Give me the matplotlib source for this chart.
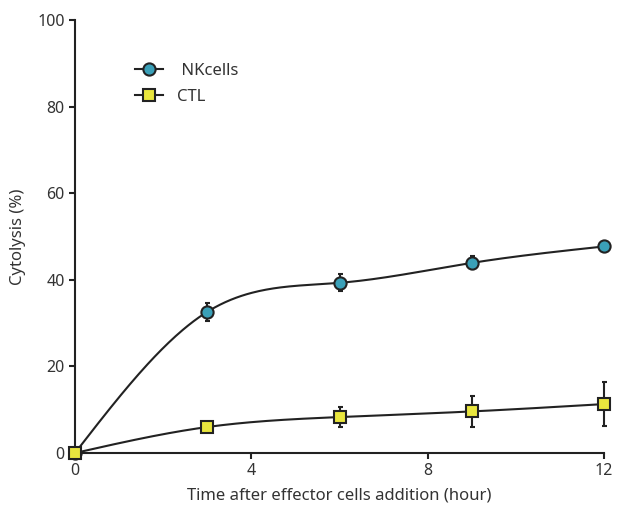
import numpy as np
import matplotlib
matplotlib.use("Agg")
import matplotlib.pyplot as plt
from matplotlib.lines import Line2D

time_h = [0, 3, 6, 9, 12]
nk_values = [0, 32.6, 39.3, 43.9, 47.7]
nk_err = [0, 2.0, 2.0, 1.5, 1.0]
ctl_values = [0, 6.0, 8.3, 9.6, 11.3]
ctl_err = [0, 0.4, 2.4, 3.6, 5.1]

x_ticks = [0, 4, 8, 12]
y_ticks = [0, 20, 40, 60, 80, 100]

plt.rcParams['font.family'] = ['Noto Sans', 'DejaVu Sans']

def natural_spline(x, y, n=300):
    x = np.asarray(x, float); y = np.asarray(y, float)
    k = len(x); h = np.diff(x)
    A = np.zeros((k, k)); b = np.zeros(k)
    A[0, 0] = 1; A[-1, -1] = 1
    for i in range(1, k - 1):
        A[i, i - 1] = h[i - 1]; A[i, i] = 2 * (h[i - 1] + h[i]); A[i, i + 1] = h[i]
        b[i] = 6 * ((y[i + 1] - y[i]) / h[i] - (y[i] - y[i - 1]) / h[i - 1])
    M = np.linalg.solve(A, b)
    xs = np.linspace(x[0], x[-1], n); ys = np.empty_like(xs)
    for j, t in enumerate(xs):
        i = min(np.searchsorted(x, t, side='right') - 1, k - 2)
        a = x[i + 1] - t; c = t - x[i]
        ys[j] = (M[i] * a**3 + M[i + 1] * c**3) / (6 * h[i]) + (y[i] / h[i] - M[i] * h[i] / 6) * a + (y[i + 1] / h[i] - M[i + 1] * h[i] / 6) * c
    return xs, ys

fig = plt.figure(figsize=(6.17, 5.11), dpi=100)
ax = fig.add_axes([75/617, 58/511, 529/617, 433/511])

teal = '#3aa0b8'
yellow = '#e9e63e'
dark = '#222222'

for vals, err, col, mk, ms in [(nk_values, nk_err, teal, 'o', 8.8), (ctl_values, ctl_err, yellow, 's', 8.0)]:
    xs, ys = natural_spline(time_h, vals)
    ax.plot(xs, ys, color=dark, lw=1.5, zorder=2, clip_on=False)
    ax.errorbar(time_h, vals, yerr=err, fmt='none', ecolor=dark, elinewidth=1.5, capsize=1.8, capthick=1.5, zorder=3, clip_on=False)
    ax.plot(time_h, vals, ls='none', marker=mk, ms=ms, mfc=col, mec=dark, mew=1.5, zorder=4, clip_on=False)

ax.set_xlim(0, 12)
ax.set_ylim(0, 100)
ax.set_xticks(x_ticks)
ax.set_yticks(y_ticks)
for s in ['top', 'right']:
    ax.spines[s].set_visible(False)
for s in ['left', 'bottom']:
    ax.spines[s].set_linewidth(1.5)
    ax.spines[s].set_color(dark)
ax.tick_params(direction='out', length=4, width=1.5, color=dark, labelsize=11.5, labelcolor='#333333')
ax.set_xlabel('Time after effector cells addition (hour)', fontsize=12, color='#333333', labelpad=6)
ax.set_ylabel('Cytolysis (%)', fontsize=12, color='#333333', labelpad=8)

handles = [Line2D([], [], color=dark, lw=1.5, marker='o', ms=8.8, mfc=teal, mec=dark, mew=1.5),
           Line2D([], [], color=dark, lw=1.5, marker='s', ms=8.0, mfc=yellow, mec=dark, mew=1.5)]
ax.legend(handles, [' NKcells', 'CTL'], loc='upper left', bbox_to_anchor=(0.085, 0.935), frameon=False,
          fontsize=12, handlelength=1.7, handletextpad=0.8, labelspacing=0.6, labelcolor='#333333')

fig.savefig('out.png', dpi=100)
